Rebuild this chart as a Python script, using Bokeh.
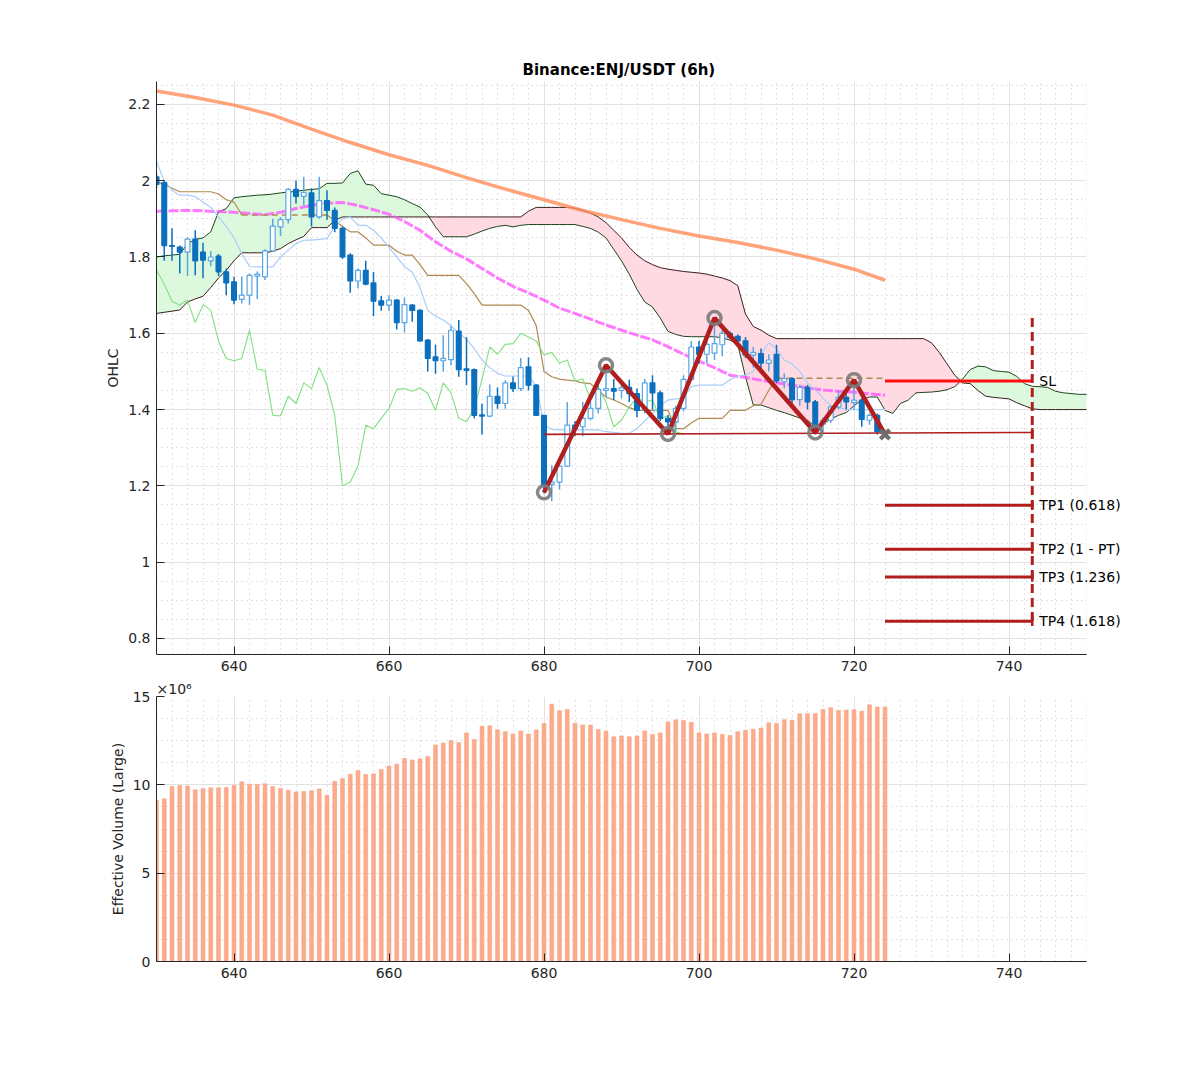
import numpy as np
from bokeh.plotting import figure
from bokeh.layouts import column
from bokeh.models import FixedTicker, CustomJSTickFormatter, Range1d, ColumnDataSource, BoxAnnotation
from bokeh.embed import file_html
from bokeh.resources import INLINE
from bokeh.core.properties import value

# ---------------- data ----------------
bars = list(range(630, 725))
opens = [2.01, 1.995, 1.83, 1.826, 1.813, 1.847, 1.813, 1.79, 1.802, 1.761,
         1.735, 1.689, 1.70, 1.750, 1.748, 1.816, 1.879, 1.898, 1.977, 1.959,
         1.968, 1.905, 1.948, 1.922, 1.875, 1.805, 1.737, 1.765, 1.732, 1.685,
         1.674, 1.687, 1.628, 1.674, 1.66, 1.582, 1.538, 1.528, 1.531, 1.606,
         1.507, 1.505, 1.386, 1.383, 1.435, 1.416, 1.470, 1.455, 1.512, 1.464,
         1.385, 1.204, 1.21, 1.252, 1.359, 1.355, 1.377, 1.403, 1.45, 1.455,
         1.45, 1.458, 1.442, 1.398, 1.47, 1.444, 1.377, 1.368, 1.403, 1.479,
         1.564, 1.545, 1.548, 1.57, 1.60, 1.592, 1.58, 1.543, 1.547, 1.522,
         1.545, 1.473, 1.481, 1.426, 1.458, 1.42, 1.362, 1.372, 1.407, 1.432,
         1.418, 1.425, 1.372, 1.385, 1.342]
highs = [2.02, 2.00, 1.875, 1.83, 1.852, 1.87, 1.837, 1.816, 1.808, 1.77,
         1.748, 1.748, 1.757, 1.762, 1.82, 1.90, 1.905, 1.98, 2.00, 2.01,
         1.98, 2.01, 1.975, 1.93, 1.88, 1.81, 1.77, 1.79, 1.761, 1.698,
         1.70, 1.69, 1.694, 1.677, 1.663, 1.585, 1.57, 1.595, 1.619, 1.635,
         1.59, 1.508, 1.415, 1.466, 1.458, 1.477, 1.487, 1.535, 1.537, 1.467,
         1.386, 1.254, 1.265, 1.42, 1.37, 1.42, 1.42, 1.47, 1.515, 1.48,
         1.475, 1.478, 1.455, 1.48, 1.49, 1.45, 1.385, 1.41, 1.49, 1.58,
         1.58, 1.585, 1.64, 1.61, 1.605, 1.597, 1.59, 1.565, 1.56, 1.545,
         1.57, 1.495, 1.485, 1.465, 1.465, 1.425, 1.38, 1.41, 1.45, 1.44,
         1.475, 1.43, 1.39, 1.39, 1.345]
lows = [1.98, 1.79, 1.79, 1.757, 1.75, 1.752, 1.744, 1.776, 1.75, 1.70,
        1.676, 1.678, 1.674, 1.69, 1.74, 1.815, 1.855, 1.888, 1.94, 1.935,
        1.88, 1.90, 1.897, 1.865, 1.795, 1.706, 1.718, 1.726, 1.645, 1.659,
        1.659, 1.61, 1.602, 1.63, 1.578, 1.50, 1.494, 1.50, 1.516, 1.486,
        1.464, 1.377, 1.335, 1.38, 1.402, 1.402, 1.446, 1.449, 1.45, 1.383,
        1.18, 1.16, 1.19, 1.25, 1.33, 1.33, 1.372, 1.39, 1.433, 1.425,
        1.43, 1.42, 1.38, 1.39, 1.40, 1.37, 1.335, 1.345, 1.395, 1.475,
        1.52, 1.52, 1.53, 1.54, 1.585, 1.57, 1.535, 1.51, 1.50, 1.50,
        1.47, 1.455, 1.41, 1.41, 1.40, 1.335, 1.34, 1.365, 1.40, 1.40,
        1.40, 1.355, 1.36, 1.335, 1.33]
closes = [1.99, 1.83, 1.828, 1.813, 1.847, 1.79, 1.792, 1.80, 1.761, 1.732,
          1.687, 1.70, 1.752, 1.755, 1.816, 1.881, 1.898, 1.977, 1.959, 1.969,
          1.905, 1.948, 1.922, 1.875, 1.80, 1.737, 1.765, 1.729, 1.684, 1.674,
          1.687, 1.628, 1.675, 1.66, 1.58, 1.534, 1.528, 1.534, 1.608, 1.505,
          1.503, 1.385, 1.383, 1.435, 1.416, 1.470, 1.455, 1.51, 1.464, 1.385,
          1.20, 1.21, 1.252, 1.359, 1.350, 1.377, 1.403, 1.453, 1.455, 1.448,
          1.457, 1.442, 1.398, 1.47, 1.444, 1.377, 1.368, 1.403, 1.479, 1.564,
          1.545, 1.571, 1.573, 1.60, 1.59, 1.58, 1.543, 1.55, 1.522, 1.53,
          1.475, 1.481, 1.426, 1.458, 1.42, 1.355, 1.372, 1.407, 1.432, 1.42,
          1.425, 1.374, 1.385, 1.342, 1.335]
volume_m = [9.11, 9.21, 9.90, 9.96, 9.94, 9.72, 9.79, 9.83, 9.83, 9.85,
            9.96, 10.17, 10.04, 10.02, 10.06, 9.90, 9.79, 9.70, 9.60, 9.62,
            9.66, 9.77, 9.41, 10.19, 10.36, 10.60, 10.81, 10.58, 10.62, 10.87,
            11.06, 11.17, 11.49, 11.41, 11.47, 11.60, 12.26, 12.37, 12.51, 12.39,
            12.94, 12.56, 13.31, 13.35, 13.12, 13.01, 12.88, 13.05, 12.88, 13.11,
            13.47, 14.56, 14.19, 14.26, 13.49, 13.39, 13.39, 13.13, 13.04, 12.72,
            12.77, 12.72, 12.77, 13.05, 12.85, 12.94, 13.56, 13.68, 13.64, 13.54,
            12.94, 12.88, 12.94, 12.85, 12.79, 13.00, 13.09, 13.15, 13.22, 13.51,
            13.47, 13.69, 13.64, 14.02, 14.04, 14.04, 14.26, 14.36, 14.21, 14.23,
            14.25, 14.17, 14.53, 14.40, 14.40]
tenkan = [2.05, 2.00, 1.975, 1.962, 1.962, 1.958, 1.944, 1.93, 1.905, 1.88,
          1.85, 1.81, 1.775, 1.774, 1.774, 1.774, 1.80, 1.818, 1.835, 1.844,
          1.844, 1.846, 1.848, 1.88, 1.90, 1.905, 1.883, 1.883, 1.87, 1.85,
          1.825, 1.80, 1.775, 1.76, 1.72, 1.66, 1.645, 1.635, 1.62, 1.60,
          1.585, 1.56, 1.53, 1.51, 1.495, 1.488, 1.488, 1.488, 1.488, 1.462,
          1.36, 1.348, 1.347, 1.347, 1.347, 1.347, 1.347, 1.347, 1.342, 1.340,
          1.338, 1.338, 1.35, 1.37, 1.39, 1.41, 1.425, 1.428, 1.43, 1.46,
          1.464, 1.464, 1.464, 1.464, 1.478, 1.488, 1.49, 1.50, 1.545, 1.575,
          1.56, 1.53, 1.52, 1.50, 1.47, 1.452, 1.43, 1.41, 1.405, 1.40,
          1.40, 1.40, 1.40, 1.40, 1.40]
kijun = [1.997, 1.99, 1.98, 1.971, 1.971, 1.971, 1.971, 1.971, 1.965, 1.95,
         1.944, 1.91, 1.91, 1.91, 1.91, 1.91, 1.91, 1.91, 1.91, 1.91,
         1.91, 1.91, 1.91, 1.895, 1.88, 1.866, 1.866, 1.85, 1.831, 1.831,
         1.831, 1.815, 1.805, 1.805, 1.78, 1.752, 1.752, 1.752, 1.752, 1.752,
         1.73, 1.704, 1.674, 1.674, 1.674, 1.674, 1.674, 1.674, 1.66, 1.62,
         1.50, 1.486, 1.48, 1.477, 1.475, 1.47, 1.468, 1.45, 1.433, 1.425,
         1.416, 1.405, 1.398, 1.398, 1.398, 1.398, 1.398, 1.35, 1.35, 1.365,
         1.377, 1.377, 1.377, 1.377, 1.398, 1.398, 1.398, 1.41, 1.414, 1.45,
         1.482, 1.482, 1.482, 1.482, 1.482, 1.482, 1.482, 1.482, 1.482, 1.482,
         1.482, 1.482, 1.482, 1.482, 1.482]
cloud_x = list(range(630, 751))
senkou_a = [1.800, 1.803, 1.805, 1.807, 1.835, 1.846, 1.850, 1.866, 1.918, 1.927,
            1.955, 1.958, 1.960, 1.962, 1.963, 1.965, 1.968, 1.970, 1.972, 1.975,
            1.977, 1.979, 1.993, 1.993, 1.994, 2.019, 2.026, 1.991, 1.988, 1.966,
            1.962, 1.958, 1.950, 1.940, 1.931, 1.910, 1.879, 1.853, 1.853, 1.853,
            1.853, 1.860, 1.868, 1.875, 1.880, 1.883, 1.879, 1.883, 1.885, 1.885,
            1.885, 1.885, 1.885, 1.885, 1.885, 1.880, 1.875, 1.865, 1.850, 1.820,
            1.790, 1.755, 1.715, 1.682, 1.669, 1.640, 1.605, 1.597, 1.592, 1.591,
            1.591, 1.591, 1.591, 1.588, 1.582, 1.570, 1.486, 1.412, 1.412, 1.405,
            1.398, 1.392, 1.385, 1.378, 1.372, 1.355, 1.362, 1.375, 1.385, 1.392,
            1.410, 1.425, 1.433, 1.433, 1.398, 1.390, 1.416, 1.425, 1.444, 1.445,
            1.446, 1.448, 1.452, 1.460, 1.480, 1.505, 1.514, 1.512, 1.502, 1.500,
            1.498, 1.487, 1.468, 1.461, 1.460, 1.458, 1.448, 1.444, 1.442, 1.440,
            1.440]
senkou_b = [1.652, 1.655, 1.658, 1.661, 1.682, 1.690, 1.697, 1.720, 1.745, 1.765,
            1.790, 1.811, 1.811, 1.811, 1.811, 1.815, 1.822, 1.835, 1.845, 1.854,
            1.877, 1.877, 1.877, 1.896, 1.905, 1.905, 1.905, 1.905, 1.905, 1.905,
            1.905, 1.905, 1.905, 1.905, 1.905, 1.905, 1.905, 1.905, 1.905, 1.905,
            1.905, 1.905, 1.905, 1.905, 1.905, 1.905, 1.905, 1.905, 1.920, 1.930,
            1.930, 1.930, 1.930, 1.930, 1.928, 1.922, 1.915, 1.905, 1.890, 1.870,
            1.850, 1.825, 1.805, 1.790, 1.780, 1.772, 1.768, 1.765, 1.762, 1.760,
            1.758, 1.755, 1.750, 1.745, 1.738, 1.725, 1.650, 1.618, 1.608, 1.595,
            1.586, 1.586, 1.586, 1.586, 1.586, 1.586, 1.586, 1.586, 1.586, 1.586,
            1.586, 1.586, 1.586, 1.586, 1.586, 1.586, 1.586, 1.586, 1.586, 1.586,
            1.575, 1.550, 1.520, 1.490, 1.470, 1.468, 1.450, 1.435, 1.432, 1.430,
            1.428, 1.418, 1.410, 1.402, 1.400, 1.400, 1.400, 1.400, 1.400, 1.400,
            1.400]
long_ma_x = [630, 635, 640, 645, 650, 655, 660, 665, 670, 675,
             680, 685, 690, 695, 700, 705, 710, 715, 720, 724]
long_ma = [2.235, 2.218, 2.198, 2.172, 2.135, 2.100, 2.068, 2.040, 2.008, 1.978,
           1.950, 1.922, 1.898, 1.875, 1.855, 1.838, 1.818, 1.795, 1.768, 1.739]
mid_ma_x = list(range(630, 725, 2))
mid_ma = [1.920, 1.921, 1.922, 1.921, 1.919, 1.917, 1.914, 1.911, 1.917, 1.927,
          1.935, 1.941, 1.943, 1.935, 1.924, 1.912, 1.893, 1.870, 1.840, 1.815,
          1.795, 1.770, 1.745, 1.723, 1.706, 1.687, 1.666, 1.652, 1.637, 1.622,
          1.608, 1.595, 1.583, 1.565, 1.545, 1.527, 1.510, 1.490, 1.484, 1.477,
          1.470, 1.464, 1.457, 1.451, 1.448, 1.446, 1.441, 1.438]
chikou_shift = 26
pattern_x = [680, 688, 696, 702, 715, 720, 724]
pattern_y = [1.183, 1.516, 1.336, 1.640, 1.340, 1.477, 1.335]
base_x = [680, 743]
base_y = [1.335, 1.340]
sl_level = 1.475
tp_levels = [1.149, 1.034, 0.961, 0.845]
tp_labels = ["TP1 (0.618)", "TP2 (1 - PT)", "TP3 (1.236)", "TP4 (1.618)"]
level_start = 724
level_end = 743
target_top = 1.640

FONT = "DejaVu Sans"
TXT = "#262626"
X_START, X_END = 630, 750
PX_PER_BAR = 7.75
# frames are widened to the right so the SL/TP texts are not clipped; the part past X_END is blanked
X_VIEW_END = X_START + 984 / PX_PER_BAR

# ---------------- OHLC figure ----------------
p1 = figure(width=1200, height=678, x_range=Range1d(X_START, X_VIEW_END), y_range=Range1d(0.758, 2.26),
            output_backend="svg", toolbar_location=None,
            min_border_left=156, min_border_right=60, min_border_top=81, min_border_bottom=24)
p1.title.text = "Binance:ENJ/USDT (6h)"
p1.title.align = "left"
p1.title.offset = 366
p1.title.text_font = FONT
p1.title.text_font_size = "15px"
p1.title.text_font_style = "bold"
p1.title.text_color = "black"
p1.title.standoff = 5

A = np.array(senkou_a)
B = np.array(senkou_b)
p1.varea(x=cloud_x, y1=B, y2=np.maximum(A, B), fill_color="#ddf9dd")
p1.varea(x=cloud_x, y1=np.minimum(A, B), y2=B, fill_color="#ffdae2")
p1.line(cloud_x, A, line_color="#1d451d", line_width=1)
p1.line(cloud_x, B, line_color="#3b1c1c", line_width=1)

p1.line(long_ma_x, long_ma, line_color="#ff8c5a", line_width=3.5, line_alpha=0.8)
p1.line(mid_ma_x, mid_ma, line_color="#ff4dff", line_width=3, line_alpha=0.75, line_dash="10 2")

xb = np.array(bars)
k = np.array(kijun, dtype=float)
dash_mask = ((xb >= 641) & (xb <= 652)) | (xb >= 710)
k_solid = k.copy()
k_solid[((xb > 641) & (xb < 652)) | (xb > 710)] = np.nan
k_dash = np.where(dash_mask, k, np.nan)
p1.line(bars, k_solid, line_color="#b08a50", line_width=1.2)
p1.line(bars, k_dash, line_color="#b08a50", line_width=1.5, line_dash="6 4")
p1.line(bars, tenkan, line_color="#a9cdfa", line_width=1.2)
p1.line([b - chikou_shift for b in bars], closes, line_color="#7fe07f", line_width=1.1)

o = np.array(opens); c = np.array(closes)
bull = c >= o
wick_col = np.where(bull, "#5aa6e4", "#0b6fbd")
src = ColumnDataSource(dict(x=bars, h=highs, l=lows, top=np.maximum(o, c), bot=np.minimum(o, c),
                            wc=wick_col, fc=np.where(bull, "white", "#0b6fbd")))
p1.segment(x0="x", y0="l", x1="x", y1="h", line_color="wc", line_width=1.5, source=src)
p1.vbar(x="x", top="top", bottom="bot", width=0.62, fill_color="fc", line_color="wc",
        line_width=1.2, source=src)

# pattern
p1.line(base_x, base_y, line_color="#b01e1e", line_width=1.6)
p1.line(pattern_x, pattern_y, line_color="#b01e1e", line_width=4.5)
p1.scatter(pattern_x[:-1], pattern_y[:-1], marker="circle", size=13, fill_color=None,
           line_color="#7a7a7a", line_width=3.5, line_alpha=0.9)
p1.scatter(pattern_x[-1:], pattern_y[-1:], marker="x", size=13, line_color="#6e6e6e", line_width=4)

# SL / TP levels
p1.segment(x0=[level_start], y0=[sl_level], x1=[level_end], y1=[sl_level],
           line_color="#ff1010", line_width=3)
p1.segment(x0=[level_start] * 4, y0=tp_levels, x1=[level_end] * 4, y1=tp_levels,
           line_color="#b01e1e", line_width=3)
cap_y = tp_levels + [base_y[1]]
p1.segment(x0=[level_end] * 5, y0=[v - 0.012 for v in cap_y], x1=[level_end] * 5,
           y1=[v + 0.012 for v in cap_y], line_color="#b01e1e", line_width=2.5)
p1.segment(x0=[level_end], y0=[target_top], x1=[level_end], y1=[tp_levels[-1]],
           line_color="#b01e1e", line_width=3, line_dash="9 5")
p1.text(x=[level_end] * 5, y=[sl_level] + tp_levels, text=["SL"] + tp_labels,
        x_offset=7, text_font=value(FONT), text_font_size="14px", text_baseline="middle",
        text_color="black")

# ---------------- volume figure ----------------
p2 = figure(width=1200, height=313, x_range=Range1d(X_START, X_VIEW_END), y_range=Range1d(0, 15),
            output_backend="svg", toolbar_location=None,
            min_border_left=156, min_border_right=60, min_border_top=18, min_border_bottom=30)
p2.vbar(x=bars, top=volume_m, width=0.5, fill_color="#fca686", line_color="#f99a76",
        line_width=0.5, fill_alpha=0.95)
p2.title.text = "×10⁶"
p2.title.align = "left"
p2.title.text_font = FONT
p2.title.text_font_size = "14px"
p2.title.text_font_style = "normal"
p2.title.text_color = TXT
p2.title.standoff = 0

fmt = CustomJSTickFormatter(code="return String(Math.round(tick*100)/100);")
for p, yt, ymin, label in [
        (p1, [0.8, 1.0, 1.2, 1.4, 1.6, 1.8, 2.0, 2.2], [round(0.75 + 0.05 * i, 2) for i in range(31)], "OHLC"),
        (p2, [0, 5, 10, 15], [1.25 * i for i in range(13)], "Effective Volume (Large)")]:
    p.outline_line_color = None
    p.add_layout(BoxAnnotation(left=X_END, fill_color="white", fill_alpha=1.0, line_color=None,
                               level="underlay"))
    p.xaxis.bounds = (X_START, X_END)
    p.xaxis.ticker = FixedTicker(ticks=[640, 660, 680, 700, 720, 740], minor_ticks=list(range(630, 751, 2)))
    p.yaxis.ticker = FixedTicker(ticks=yt, minor_ticks=ymin)
    p.yaxis.formatter = fmt
    p.yaxis.axis_label = label
    p.yaxis.axis_label_text_font = FONT
    p.yaxis.axis_label_text_font_size = "14px"
    p.yaxis.axis_label_text_font_style = "normal"
    p.yaxis.axis_label_text_color = TXT
    p.yaxis.axis_label_standoff = 4
    for ax in (p.xaxis, p.yaxis):
        ax.axis_line_color = TXT
        ax.major_tick_line_color = TXT
        ax.major_tick_in = 8
        ax.major_tick_out = 0
        ax.minor_tick_in = 0
        ax.minor_tick_out = 0
        ax.major_label_text_font = FONT
        ax.major_label_text_font_size = "14px"
        ax.major_label_text_color = TXT
        ax.major_label_standoff = 6
    for g in (p.xgrid, p.ygrid):
        g.grid_line_color = "#e2e2e2"
        g.minor_grid_line_color = "#c4c4c4"
        g.minor_grid_line_dash = "1 4"

layout = column(p1, p2)
open("out.html", "w").write(file_html(layout, INLINE))
